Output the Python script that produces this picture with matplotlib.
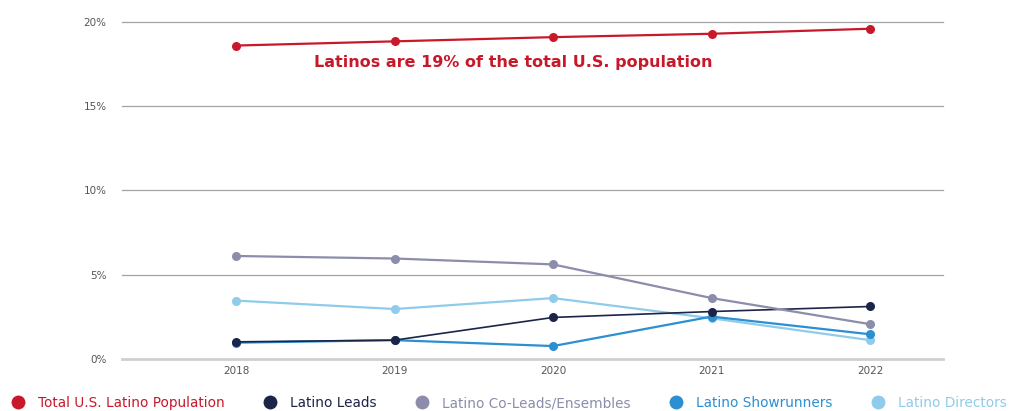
import matplotlib
matplotlib.use("Agg")
import matplotlib.pyplot as plt
from matplotlib.lines import Line2D

years = [2018, 2019, 2020, 2021, 2022]

population = [18.6, 18.85, 19.1, 19.3, 19.6]
leads = [1.0, 1.1, 2.45, 2.8, 3.1]
co_leads = [6.1, 5.95, 5.6, 3.6, 2.05]
showrunners = [0.95, 1.1, 0.75, 2.5, 1.45]
directors = [3.45, 2.95, 3.6, 2.4, 1.1]

series_labels = [
    "Total U.S. Latino Population",
    "Latino Leads",
    "Latino Co-Leads/Ensembles",
    "Latino Showrunners",
    "Latino Directors",
]
y_ticks = [0, 5, 10, 15, 20]
y_tick_labels = ["0%", "5%", "10%", "15%", "20%"]
note = "Latinos are 19% of the total U.S. population"

colors = ["#c8192b", "#1c2448", "#8b8dab", "#2b8fd2", "#8fcbea"]

fig = plt.figure(figsize=(10.26, 4.11), dpi=100)
ax = fig.add_axes([0.1189, 0.1273, 0.8002, 0.8192])

ax.set_xlim(2017.28, 2022.46)
ax.set_ylim(0, 20)

# horizontal guide lines
for t in y_ticks:
    if t == 0:
        ax.axhline(t, color="#cfcfcf", lw=2.0, zorder=0.5, clip_on=False)
    else:
        ax.axhline(t, color="#a3a3a3", lw=0.9, zorder=0.5, clip_on=False)

for sp in ax.spines.values():
    sp.set_visible(False)

ax.set_yticks(y_ticks)
ax.set_yticklabels(y_tick_labels)
ax.set_xticks(years)
ax.set_xticklabels([str(y) for y in years])
ax.tick_params(axis="both", length=0, labelsize=7.5, labelcolor="#555555")
ax.tick_params(axis="y", pad=11)
ax.tick_params(axis="x", pad=5)
for lab in ax.get_xticklabels() + ax.get_yticklabels():
    lab.set_family("DejaVu Sans")

data = [population, leads, co_leads, showrunners, directors]
widths = [1.6, 1.2, 1.6, 1.6, 1.6]
zorders = [6, 4, 5, 3, 2]
for vals, c, lw, z in zip(data, colors, widths, zorders):
    ax.plot(years, vals, color=c, lw=lw, marker="o", ms=6.5,
            markeredgewidth=0, zorder=z, clip_on=False)

ax.text(2019.75, 17.6, note, color=colors[0], fontsize=11.5,
        family="DejaVu Sans", fontweight="bold", ha="center", va="center")

handles = [Line2D([], [], ls="none", marker="o", ms=10, color=c,
                  markeredgewidth=0) for c in colors]
fig.legend(handles, series_labels, loc="center left", ncol=5,
           bbox_to_anchor=(0.011, 0.019), frameon=False,
           labelcolor=colors, prop={"family": "DejaVu Sans", "size": 9.8},
           handletextpad=0.95, columnspacing=2.85, handlelength=1.0,
           borderpad=0, borderaxespad=0)

fig.savefig("out.png", dpi=100, facecolor="white")
